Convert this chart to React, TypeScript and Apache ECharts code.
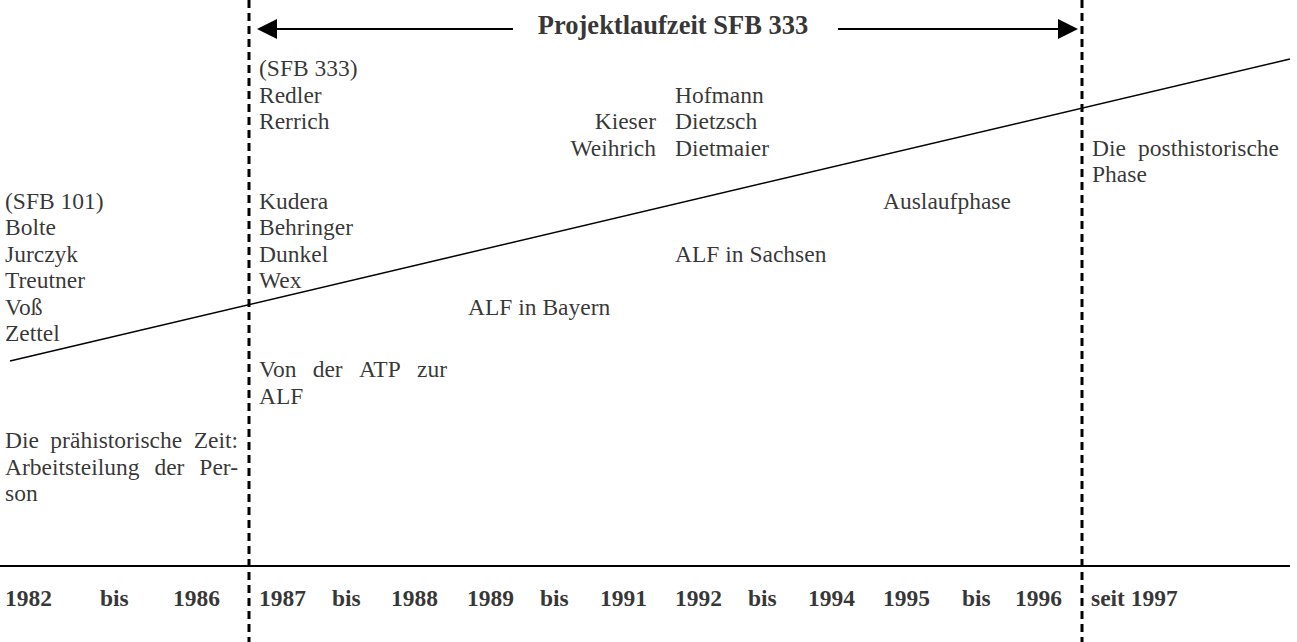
import React, { useEffect, useRef } from "react";
import * as echarts from "echarts";

// ---------- content ----------
const titleText = "Projektlaufzeit SFB 333";
const sfb101Names = ["(SFB 101)", "Bolte", "Jurczyk", "Treutner", "Voß", "Zettel"];
const sfb333EarlyNames = ["(SFB 333)", "Redler", "Rerrich"];
const sfb333LateNames = ["Kudera", "Behringer", "Dunkel", "Wex"];
const midRightNames = ["Kieser", "Weihrich"];
const midLeftNames = ["Hofmann", "Dietzsch", "Dietmaier"];
const prehistoricLines = ["Die prähistorische Zeit:", "Arbeitsteilung der Per-", "son"];
const atpLines = ["Von der ATP zur", "ALF"];
const posthistoricLines = ["Die posthistorische", "Phase"];
const phaseLabels = ["ALF in Bayern", "ALF in Sachsen", "Auslaufphase"];
const periodLabels = [
  "1982", "bis", "1986",
  "1987", "bis", "1988",
  "1989", "bis", "1991",
  "1992", "bis", "1994",
  "1995", "bis", "1996",
  "seit 1997",
];

// ---------- layout (diagram space, same units as the hidden axes) ----------
const W = 1297;
const H = 642;
const FONT = '"Liberation Serif", "Times New Roman", serif';
const FS = 23.5;
const TITLE_FS = 26.5;
const ROW0 = 68;
const LH = 26.5;
const rowY = (i: number) => ROW0 + i * LH;
const LEFT_X = 5;
const periodX = [5, 100, 173, 259, 332, 391, 467, 540, 600, 675, 748, 808, 883, 962, 1015, 1091];
const periodY = 598;
const boundaryX = [249, 1082];
const baselineY = 566;
const trendLine = [[10, 361], [1290, 59]];
const arrowY = 29;
const titleX = 673;
const titleY = 25;
const phasePos = [[468, 9], [675, 7], [883, 5]];

let measureCtx: CanvasRenderingContext2D | null = null;
function measure(text: string, font: string) {
  if (!measureCtx) measureCtx = document.createElement("canvas").getContext("2d");
  measureCtx!.font = font;
  return measureCtx!.measureText(text).width;
}

type Item = { name: string; value: number[]; label?: any };

function textItem(name: string, x: number, y: number, align = "left"): Item {
  return { name, value: [x, y], label: { align } };
}

function block(lines: string[], x: number, y0: number, align = "left"): Item[] {
  return lines.map((t, i) => textItem(t, x, y0 + i * LH, align));
}

// Justified paragraph: every line but the last is spread between left and right.
function justified(lines: string[], left: number, right: number, y0: number): Item[] {
  const out: Item[] = [];
  const font = `${FS}px ${FONT}`;
  lines.forEach((line, i) => {
    const y = y0 + i * LH;
    const words = line.split(" ");
    if (i === lines.length - 1 || words.length < 2) {
      out.push(textItem(line, left, y));
      return;
    }
    const widths = words.map((w) => measure(w, font));
    const total = widths.reduce((a, b) => a + b, 0);
    const gap = (right - left - total) / (words.length - 1);
    let x = left;
    words.forEach((w, k) => {
      out.push(textItem(w, x, y));
      x += widths[k] + gap;
    });
  });
  return out;
}

export default function App() {
  const ref = useRef<HTMLDivElement>(null);

  useEffect(() => {
    if (!ref.current) return;
    const chart = echarts.init(ref.current, undefined, { renderer: "svg" });

    const textItems: Item[] = [
      ...block(sfb101Names, LEFT_X, rowY(5)),
      ...block(sfb333EarlyNames, 259, rowY(0)),
      ...block(sfb333LateNames, 259, rowY(5)),
      ...block(midRightNames, 656, rowY(2), "right"),
      ...block(midLeftNames, 675, rowY(1)),
      ...justified(posthistoricLines, 1092, 1279, rowY(3)),
      ...justified(atpLines, 259, 447, 369),
      ...justified(prehistoricLines, LEFT_X, 238, 440),
      ...phaseLabels.map((t, i) => textItem(t, phasePos[i][0], rowY(phasePos[i][1]))),
    ];

    const periodItems: Item[] = periodLabels.map((t, i) => textItem(t, periodX[i], periodY));

    const labelBase = {
      show: true,
      position: [0, 0],
      verticalAlign: "middle",
      color: "#000",
      fontFamily: FONT,
      fontSize: FS,
      formatter: (p: any) => p.name,
    };

    const series: any[] = [
      // trend line
      {
        type: "line",
        data: trendLine,
        showSymbol: false,
        silent: true,
        lineStyle: { color: "#000", width: 1.5 },
      },
      // baseline of the timeline
      {
        type: "line",
        data: [[0, baselineY], [1290, baselineY]],
        showSymbol: false,
        silent: true,
        lineStyle: { color: "#000", width: 2.2 },
      },
      // dashed boundaries
      ...boundaryX.map((x) => ({
        type: "line",
        data: [[x, 0], [x, H]],
        showSymbol: false,
        silent: true,
        lineStyle: { color: "#000", width: 3, type: [8, 5] },
      })),
      // arrows of the project period
      {
        type: "line",
        data: [],
        silent: true,
        markLine: {
          silent: true,
          animation: false,
          symbol: ["none", "triangle"],
          symbolSize: [20, 20],
          label: { show: false },
          lineStyle: { color: "#000", width: 2, type: "solid" },
          data: [
            [{ coord: [513, arrowY] }, { coord: [267, arrowY] }],
            [{ coord: [838, arrowY] }, { coord: [1068, arrowY] }],
          ],
        },
      },
      // texts
      {
        type: "scatter",
        data: textItems,
        symbolSize: 0,
        silent: true,
        itemStyle: { color: "transparent" },
        label: labelBase,
      },
      {
        type: "scatter",
        data: periodItems,
        symbolSize: 0,
        silent: true,
        itemStyle: { color: "transparent" },
        label: { ...labelBase, fontWeight: "bold" },
      },
      {
        type: "scatter",
        data: [textItem(titleText, titleX, titleY, "center")],
        symbolSize: 0,
        silent: true,
        itemStyle: { color: "transparent" },
        label: { ...labelBase, fontWeight: "bold", fontSize: TITLE_FS },
      },
    ];

    chart.setOption({
      animation: false,
      backgroundColor: "#fff",
      grid: { left: 0, right: 0, top: 0, bottom: 0 },
      xAxis: { type: "value", min: 0, max: W, show: false },
      yAxis: { type: "value", min: 0, max: H, inverse: true, show: false },
      series,
    });

    return () => chart.dispose();
  }, []);

  return (
    <div
      ref={ref}
      style={{ position: "fixed", left: 0, top: 0, width: W, height: H, background: "#fff" }}
    />
  );
}
